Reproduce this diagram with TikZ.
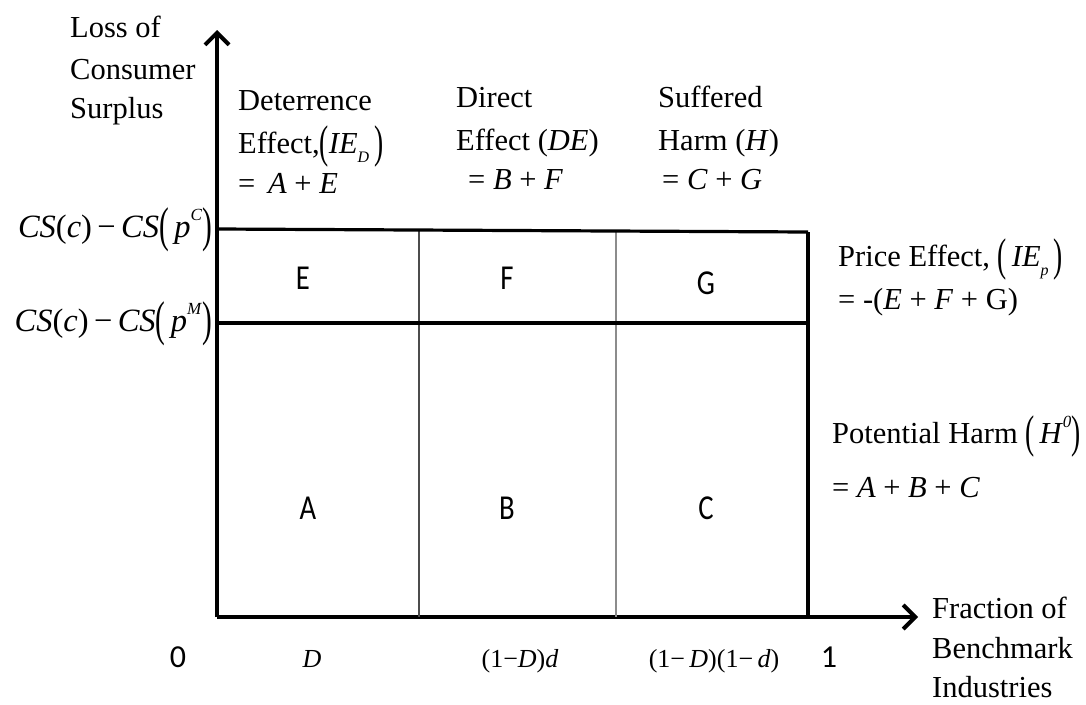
\documentclass[tikz,border=0pt]{standalone}
\usepackage{fontspec}
\setmainfont{Liberation Serif}
\newfontfamily\carl{Carlito}
\usetikzlibrary{arrows.meta}
\newcommand{\lpar}{\raisebox{-0.14em}{\scalebox{0.9}[1.5]{(}}}
\newcommand{\rpar}{\raisebox{-0.14em}{\scalebox{0.9}[1.5]{)}}}
\newcommand{\supx}[1]{\raisebox{0.5em}{\fontsize{17}{17}\selectfont\textit{#1}}}
\newcommand{\subx}[1]{\raisebox{-0.3em}{\fontsize{16}{16}\selectfont\textit{#1}}}
\newcommand{\cond}[1]{\scalebox{0.82}[1]{#1}}
\begin{document}
\begin{tikzpicture}[x=1pt,y=-1pt,
  txt/.style={font=\fontsize{30.5}{40}\selectfont, inner sep=0pt, anchor=base west},
  small/.style={font=\fontsize{26}{30}\selectfont, inner sep=0pt, anchor=base},
  cell/.style={font=\carl\fontsize{35}{36}\selectfont, inner sep=0pt},
  num/.style={font=\carl\fontsize{32}{36}\selectfont, inner sep=0pt, anchor=base},
  axis/.style={line width=4pt, -{Straight Barb[length=12pt,width=24pt]}},
  thick line/.style={line width=3.2pt},
  thin dark/.style={line width=1.6pt, draw=black!70},
  thin light/.style={line width=1.3pt, draw=black!45}]
\useasboundingbox (0,0) rectangle (1086,704);

% axes
\coordinate (O) at (217,617);
\coordinate (ytip) at (217,30);
\coordinate (xtip) at (918,617);
\draw[axis] (O) -- (ytip);
\draw[axis] (O) -- (xtip);

% grid
\coordinate (tl) at (217,229);
\coordinate (tr) at (808,232);
\coordinate (ml) at (217,323);
\coordinate (mr) at (808,323);
\coordinate (br) at (808,617);
\coordinate (v1t) at (419,230);
\coordinate (v1b) at (419,617);
\coordinate (v2t) at (616,231);
\coordinate (v2b) at (616,617);
\draw[thin dark] (v1t) -- (v1b);
\draw[thin light] (v2t) -- (v2b);
\draw[thick line] (tl) -- (tr);
\draw[line width=3.6pt] (ml) -- (mr);
\draw[thick line] (tr) -- (br);

% cell letters
\node[cell] (E) at (303,278) {\cond{E}};
\node[cell] (F) at (507,278) {\cond{F}};
\node[cell] (G) at (706,283) {\cond{G}};
\node[cell] (A) at (308,508) {\cond{A}};
\node[cell] (B) at (507,508) {\cond{B}};
\node[cell] (C) at (706,508) {\cond{C}};

% y axis label
\node[txt] (y1) at (70,37) {Loss of};
\node[txt] (y2) at (70,79) {Consumer};
\node[txt] (y3) at (70,118) {Surplus};

% column headers
\node[txt] (d1) at (238,110) {Deterrence};
\node[txt] (d2) at (238,153) {Effect,\lpar\textit{IE}\subx{D}\,\rpar};
\node[txt] (d3) at (238,193) {= \,\textit{A} + \textit{E}};
\node[txt] (e1) at (456,107) {Direct};
\node[txt] (e2) at (456,150) {Effect (\textit{DE})};
\node[txt] (e3) at (468,189) {= \textit{B} + \textit{F}};
\node[txt] (h1) at (658,107) {Suffered};
\node[txt] (h2) at (658,150) {Harm (\textit{H})};
\node[txt] (h3) at (662,189) {= \textit{C} + \textit{G}};

% left value labels
\node[txt, font=\fontsize{32.5}{36}\selectfont, anchor=base east] (csc) at (212,237)
  {\textit{CS}(\textit{c})\,−\,\textit{CS}\lpar\,\textit{p}\supx{C}\rpar};
\node[txt, font=\fontsize{32.5}{36}\selectfont, anchor=base east] (csm) at (212,331)
  {\textit{CS}(\textit{c})\,−\,\textit{CS}\lpar\,\textit{p}\supx{M}\rpar};

% right labels
\node[txt] (p1) at (838,266) {Price Effect, \lpar\,\textit{IE}\subx{p}\,\rpar};
\node[txt] (p2) at (838,309) {= -(\textit{E} + \textit{F} + G)};
\node[txt] (q1) at (832,443) {Potential Harm \lpar\,\textit{H}\supx{0}\rpar};
\node[txt] (q2) at (832,497) {= \textit{A} + \textit{B} + \textit{C}};

% x axis labels
\node[num] (zero) at (178,667) {0};
\node[num] (one) at (829,667) {1};
\node[small] (lD) at (312,667) {\textit{D}};
\node[small] (lDd) at (520,667) {(1−\textit{D})\textit{d}};
\node[small] (lDdd) at (714,667) {(1−\,\textit{D})(1−\,\textit{d})};
\node[txt] (x1) at (932,618) {Fraction of};
\node[txt] (x2) at (932,658) {Benchmark};
\node[txt] (x3) at (932,697) {Industries};
\end{tikzpicture}
\end{document}
